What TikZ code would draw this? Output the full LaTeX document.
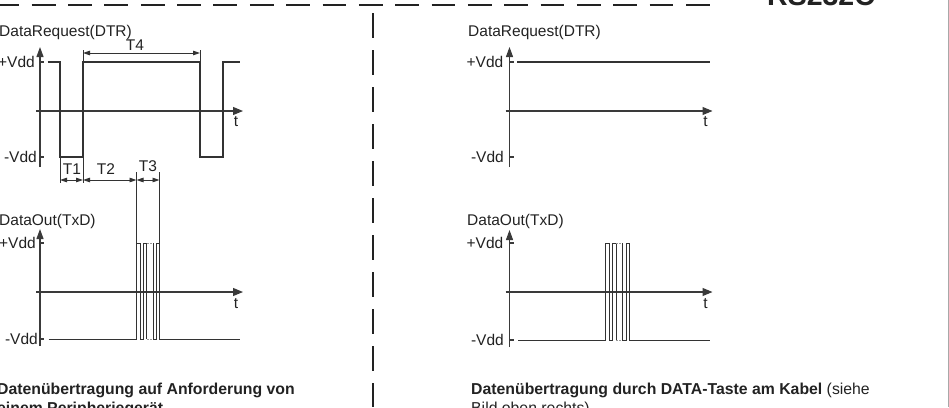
\documentclass[tikz,border=0pt]{standalone}
\usepackage{fontspec}
\setmainfont{Liberation Sans}
\usetikzlibrary{arrows.meta}
\definecolor{ink}{HTML}{222222}
\definecolor{wavec}{HTML}{333333}
\definecolor{axisc}{HTML}{3A3A3A}
\definecolor{edgec}{HTML}{A8A8A8}
\definecolor{dashc}{HTML}{9A9A9A}
\begin{document}
\begin{tikzpicture}[x=1pt,y=-1pt,
  lbl/.style={font=\fontsize{15.5}{18}\selectfont, text=ink, inner sep=0pt},
  caption/.style={font=\fontsize{15.8}{18}\selectfont, text=ink, inner sep=0pt, anchor=base west},
  boldcap/.style={caption, font=\bfseries\fontsize{15.8}{18}\selectfont},
  wave/.style={draw=wavec, line width=1.2pt, line join=miter},
  pulse/.style={draw=wavec, line width=0.9pt},
  pulsedash/.style={draw=dashc, line width=0.8pt, dash pattern=on 2pt off 1.2pt},
  axisline/.style={draw=axisc, line width=1.1pt},
  yarrow/.style={axisline, -{Triangle[length=10pt,width=7pt]}},
  tarrow/.style={axisline, -{Triangle[length=10pt,width=8pt]}},
  extline/.style={draw=wavec, line width=0.9pt},
  dimline/.style={draw=wavec, line width=0.9pt, {Triangle[length=7pt,width=4.5pt]}-{Triangle[length=7pt,width=4.5pt]}},
  border/.style={draw=ink, line width=2.6pt}
]
\useasboundingbox (0,0) rectangle (949,407);
\clip (0,0) rectangle (949,407);

% frame lines
\draw[border, dash pattern=on 23.8pt off 12.55pt] (-4.65,5) -- (712,5);
\draw[border, dash pattern=on 25pt off 12pt] (373,13) -- (373,407);
\draw[draw=edgec, line width=0.8pt] (948.3,0) -- (948.3,407);
\node[font=\bfseries\fontsize{28.5}{30}\selectfont, text=ink, anchor=base west, inner sep=0pt] (title) at (767,5.5) {RS232C};

% ================= LEFT PANEL =================
\begin{scope}
  % DTR axes
  \draw[yarrow] (40,167) -- (40,47);
  \draw[tarrow] (36,111) -- (243,111);
  \draw[axisline] (40,62) -- (44,62) (40,157) -- (44,157);
  \node[lbl, anchor=west] (Ldtr) at (-1,32) {DataRequest(DTR)};
  \node[lbl, anchor=east] (Lpv1) at (35,62) {+Vdd};
  \node[lbl, anchor=east] (Lmv1) at (37,157) {-Vdd};
  \node[lbl] (Lt1) at (236,122) {t};
  % DTR waveform
  \draw[wave] (47.5,62) -- (60,62) -- (60,157) -- (83,157) -- (83,62) -- (200,62) -- (200,157) -- (223,157) -- (223,62) -- (240,62);
  % extension lines
  \draw[extline] (83,62) -- (83,50) (200,62) -- (200,50);
  \draw[extline] (60,157) -- (60,183) (83,157) -- (83,183);
  \draw[extline] (136.5,172) -- (136.5,243) (159.5,172) -- (159.5,243);
  % dimensions
  \draw[dimline] (83,53) -- (200,53);
  \draw[dimline] (60,180) -- (83,180);
  \draw[dimline] (83,180) -- (136.5,180);
  \draw[dimline] (136.5,180) -- (159.5,180);
  \node[lbl] (LT4) at (135,45) {T4};
  \node[lbl] (LT1) at (72,169) {T1};
  \node[lbl] (LT2) at (106,169) {T2};
  \node[lbl] (LT3) at (148,166.5) {T3};
  % TxD axes
  \draw[yarrow] (40,346) -- (40,229);
  \draw[tarrow] (36,292) -- (243,292);
  \draw[axisline] (40,243) -- (44,243) (40,339) -- (44,339);
  \node[lbl, anchor=west] (Ltxd) at (-1,221) {DataOut(TxD)};
  \node[lbl, anchor=east] (Lpv2) at (36,243) {+Vdd};
  \node[lbl, anchor=east] (Lmv2) at (38,339) {-Vdd};
  \node[lbl] (Lt2) at (236,304) {t};
  % TxD pulses
  \draw[pulse] (48.5,339) -- (136.5,339) -- (136.5,243) -- (140.7,243) -- (140.7,339) -- (143.3,339) -- (143.3,243) -- (146.7,243) -- (146.7,339);
  \draw[pulsedash] (146.7,243) -- (153.3,243) (146.7,339) -- (153.3,339);
  \draw[pulse] (153.3,243) -- (153.3,339) -- (156.7,339) -- (156.7,243) -- (159.5,243) -- (159.5,339) -- (240,339);
  % caption
  \node[boldcap] (Lcap1) at (-3,394.5) {Datenübertragung auf Anforderung von};
  \node[boldcap] (Lcap2) at (-3,413) {einem Peripheriegerät};
\end{scope}

% ================= RIGHT PANEL =================
\begin{scope}[shift={(469.5,0)}]
  \draw[yarrow] (40,167) -- (40,47);
  \draw[tarrow] (36,111) -- (243,111);
  \draw[axisline] (40,62) -- (44,62) (40,157) -- (44,157);
  \node[lbl, anchor=west] (Rdtr) at (-1.5,32) {DataRequest(DTR)};
  \node[lbl, anchor=east] (Rpv1) at (34,62) {+Vdd};
  \node[lbl, anchor=east] (Rmv1) at (34.5,157) {-Vdd};
  \node[lbl] (Rt1) at (236,122) {t};
  \draw[wave] (47.5,62) -- (240.5,62);
  % TxD
  \draw[yarrow] (40,347) -- (40,230);
  \draw[tarrow] (36,292) -- (243,292);
  \draw[axisline] (40,243) -- (44,243) (40,340) -- (44,340);
  \node[lbl, anchor=west] (Rtxd) at (-2.5,221) {DataOut(TxD)};
  \node[lbl, anchor=east] (Rpv2) at (34,243) {+Vdd};
  \node[lbl, anchor=east] (Rmv2) at (34.5,340) {-Vdd};
  \node[lbl] (Rt2) at (236,304) {t};
  \draw[pulse] (48.5,340) -- (136,340) -- (136,243) -- (140,243) -- (140,340) -- (143,340) -- (143,243) -- (146.5,243) -- (146.5,340);
  \draw[pulsedash] (146.5,243) -- (153,243) (146.5,340) -- (153,340);
  \draw[pulse] (153,243) -- (153,340) -- (156.5,340) -- (156.5,243) -- (159.5,243) -- (159.5,340) -- (240.5,340);
  \node[caption] (Rcap1) at (1.5,394.5) {\textbf{Datenübertragung durch DATA-Taste am Kabel} (siehe};
  \node[caption] (Rcap2) at (1.5,413) {Bild oben rechts)};
\end{scope}
\end{tikzpicture}
\end{document}
